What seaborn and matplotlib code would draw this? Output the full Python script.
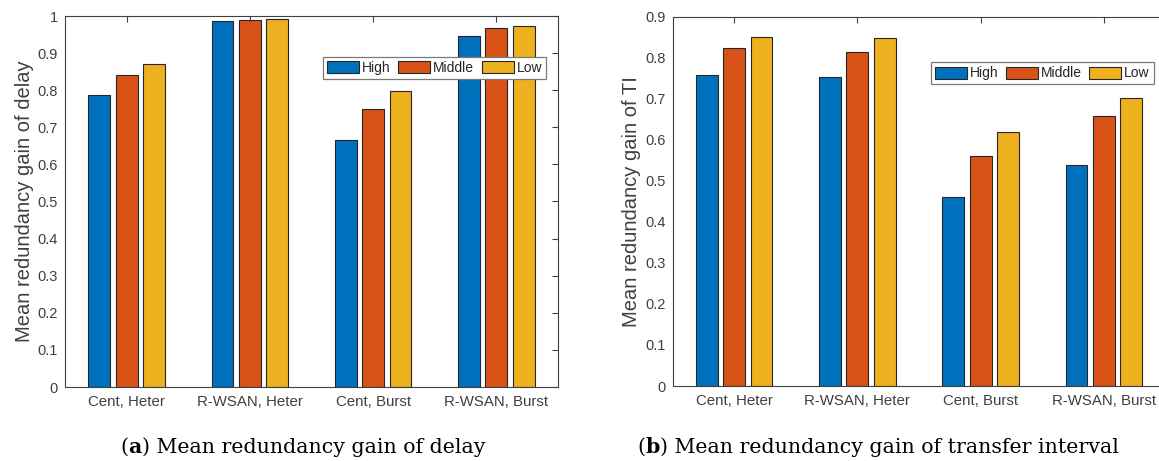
import matplotlib
matplotlib.use("Agg")
import matplotlib.pyplot as plt
import seaborn as sns
import pandas as pd

# Scenarios on the x axis and traffic-load levels as hue
scenarios = ["Cent, Heter", "R-WSAN, Heter", "Cent, Burst", "R-WSAN, Burst"]
levels = ["High", "Middle", "Low"]

# Mean redundancy gain of delay (rows follow levels, columns follow scenarios)
delay_high = [0.786, 0.986, 0.665, 0.945]
delay_middle = [0.840, 0.990, 0.750, 0.968]
delay_low = [0.871, 0.992, 0.799, 0.973]

# Mean redundancy gain of transfer interval (TI)
ti_high = [0.758, 0.753, 0.461, 0.538]
ti_middle = [0.823, 0.813, 0.561, 0.657]
ti_low = [0.851, 0.847, 0.619, 0.703]

delay_ticks = [0, 0.1, 0.2, 0.3, 0.4, 0.5, 0.6, 0.7, 0.8, 0.9, 1]
ti_ticks = [0, 0.1, 0.2, 0.3, 0.4, 0.5, 0.6, 0.7, 0.8, 0.9]

palette = ["#0072BD", "#D95319", "#EDB120"]
axis_color = "#404040"


def long_frame(high, middle, low):
    rows = []
    for lvl, vals in zip(levels, [high, middle, low]):
        for sc, v in zip(scenarios, vals):
            rows.append({"scenario": sc, "level": lvl, "value": v})
    return pd.DataFrame(rows)


sns.set_theme(style="white")
plt.rcParams["font.family"] = ["Liberation Sans", "DejaVu Sans"]

fig = plt.figure(figsize=(11.59, 4.61), dpi=100)
ax_a = fig.add_axes([65 / 1159, 74 / 461, 493 / 1159, 371 / 461])
ax_b = fig.add_axes([672.5 / 1159, 75 / 461, 493 / 1159, 369.3 / 461])


def draw_panel(ax, df, ylim, ticks, ylabel, right_box, legend_anchor):
    sns.barplot(data=df, x="scenario", y="value", hue="level", order=scenarios,
                hue_order=levels, palette=palette, width=0.667, gap=0.2,
                saturation=1, edgecolor="#262626", linewidth=0.8, errorbar=None,
                ax=ax)
    ax.set_xlim(-0.5, 3.5)
    ax.set_ylim(*ylim)
    ax.set_yticks(ticks)
    ax.set_yticklabels([f"{t:g}" for t in ticks])
    ax.set_xlabel("")
    ax.set_ylabel(ylabel, fontsize=14.5, color=axis_color, labelpad=3)
    ax.tick_params(axis="both", direction="in", length=4, width=0.8,
                   colors=axis_color, labelcolor=axis_color, top=True,
                   right=right_box, labelsize=10.5)
    ax.tick_params(axis="x", labelsize=10.8, pad=6)
    ax.tick_params(axis="y", pad=5)
    ax.set_axisbelow(False)
    for side, sp in ax.spines.items():
        sp.set_color(axis_color)
        sp.set_linewidth(0.8)
        sp.set_visible(True)
    leg = ax.legend(loc="upper left", bbox_to_anchor=legend_anchor, ncol=3,
                    frameon=True, fancybox=False, framealpha=1,
                    edgecolor="#7a7a7a", fontsize=10, handlelength=2.3,
                    handleheight=0.95, handletextpad=0.2, columnspacing=0.55,
                    borderpad=0.3, borderaxespad=0)
    leg.get_frame().set_linewidth(0.9)
    for txt in leg.get_texts():
        txt.set_color("#262626")


draw_panel(ax_a, long_frame(delay_high, delay_middle, delay_low), (0, 1),
           delay_ticks, "Mean redundancy gain of delay", True, (0.524, 0.89))
draw_panel(ax_b, long_frame(ti_high, ti_middle, ti_low), (0, 0.9),
           ti_ticks, "Mean redundancy gain of TI", False, (0.524, 0.877))

# Sub-figure captions with bold panel letters
renderer = fig.canvas.get_renderer()
cap_font = dict(family="DejaVu Serif", size=14.8, color="black")


def caption(x_center, letter, rest, y=8 / 461):
    parts = [("(", "normal"), (letter, "bold"), (") " + rest, "normal")]
    widths = []
    texts = []
    for s, w in parts:
        t = fig.text(0, y, s, fontweight=w, va="baseline", ha="left", **cap_font)
        widths.append(t.get_window_extent(renderer).width / fig.bbox.width)
        texts.append(t)
    x = x_center - sum(widths) / 2
    for t, w in zip(texts, widths):
        t.set_x(x)
        x += w


caption(303 / 1159, "a", "Mean redundancy gain of delay")
caption(878 / 1159, "b", "Mean redundancy gain of transfer interval")

fig.savefig("out.png", dpi=100)
